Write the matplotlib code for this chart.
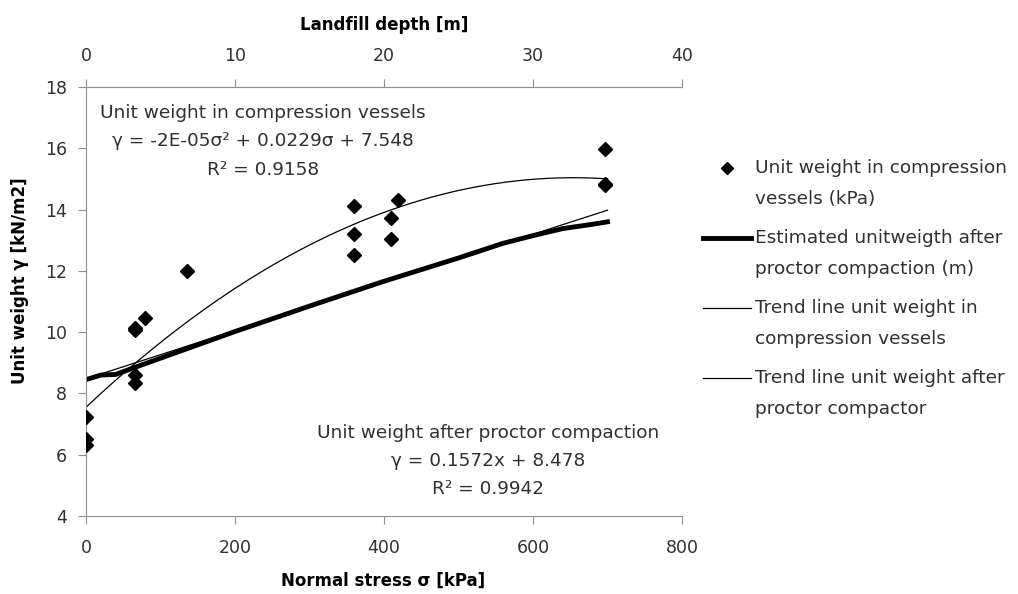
import matplotlib
matplotlib.use("Agg")
from matplotlib import pyplot as plt
from matplotlib.lines import Line2D
import numpy as np

plt.rcParams['font.family'] = ['DejaVu Sans']

# measured unit weights in compression vessels
stress = [0, 0, 0, 66, 66, 66, 66, 79, 135, 360, 360, 360, 409, 409, 419, 697, 697, 697]
gamma = [7.24, 6.5, 6.33, 10.13, 10.08, 8.6, 8.33, 10.45, 12.0,
         14.13, 13.2, 12.52, 13.74, 13.04, 14.3, 15.97, 14.85, 14.8]

# estimated unit weight after proctor compaction vs depth (m)
depth = [0, 1, 2, 3, 5, 10, 15, 20, 25, 28, 30, 32, 33, 34, 35]
gamma_proctor = [8.45, 8.6, 8.62, 8.8, 9.15, 10.02, 10.85, 11.66, 12.42, 12.9, 13.15, 13.38, 13.45, 13.52, 13.6]

# trend line coefficients
quad = [-1.75e-05, 0.0229, 7.548]
lin = [0.1572, 8.478]

eq_top = ['Unit weight in compression vessels', 'γ = -2E-05σ² + 0.0229σ + 7.548', 'R² = 0.9158']
eq_bot = ['Unit weight after proctor compaction', 'γ = 0.1572x + 8.478', 'R² = 0.9942']

legend_labels = [('Unit weight in compression', 'vessels (kPa)'),
                 ('Estimated unitweigth after', 'proctor compaction (m)'),
                 ('Trend line unit weight in', 'compression vessels'),
                 ('Trend line unit weight after', 'proctor compactor')]

W, H = 1018, 594
fig = plt.figure(figsize=(W / 100, H / 100), dpi=100)
ax = fig.add_axes([86 / W, 1 - 516 / H, 596 / W, 429 / H])

tc = '#303030'
fs = 12.5   # tick labels
fs2 = 13.3  # equations and legend
s = np.linspace(0, 700, 200)
d = np.array(depth)
ax.plot(stress, gamma, 'kD', ms=7, zorder=5)
ax.plot(d * 20, gamma_proctor, 'k-', lw=3.5)
ax.plot(s, np.polyval(quad, s), 'k-', lw=0.9)
ax.plot(s, np.polyval(lin, s / 20), 'k-', lw=0.9)

ax.set_xlim(0, 800)
ax.set_ylim(4, 18)
ax.set_xticks(range(0, 801, 200))
ax.set_yticks(range(4, 19, 2))
for side in ['left', 'bottom', 'top']:
    ax.spines[side].set_color('#909090')
ax.spines['right'].set_visible(False)
ax.tick_params(direction='out', colors='#909090', labelcolor=tc, labelsize=fs, length=5.5)
ax.tick_params(axis='x', pad=11)
ax.tick_params(axis='y', pad=8)

top = ax.secondary_xaxis('top', functions=(lambda x: x / 20, lambda x: x * 20))
top.set_xticks(range(0, 41, 10))
top.spines['top'].set_color('#909090')
top.tick_params(direction='out', colors='#909090', labelcolor=tc, labelsize=fs, length=5.5, pad=10)

for k, line in enumerate(eq_top):
    fig.text(263 / W, 1 - (113 + 28.5 * k) / H, line, ha='center', va='center', fontsize=fs2, color=tc)
for k, line in enumerate(eq_bot):
    fig.text(488 / W, 1 - (433 + 28 * k) / H, line, ha='center', va='center', fontsize=fs2, color=tc)

fig.text(20 / W, 1 - 281 / H, 'Unit weight γ [kN/m2]', rotation=90, ha='center', va='center',
         fontsize=12, fontweight='bold')
fig.text(383 / W, 1 - 581 / H, 'Normal stress σ [kPa]', ha='center', va='center', fontsize=12, fontweight='bold')
fig.text(384 / W, 1 - 25 / H, 'Landfill depth [m]', ha='center', va='center', fontsize=12, fontweight='bold')

# legend, handle on the first text line
handles = [dict(marker='D', ls='none', ms=6), dict(lw=3.5), dict(lw=0.9), dict(lw=0.9)]
for i, (lab, h) in enumerate(zip(legend_labels, handles)):
    y = 1 - (168 + 70 * i) / H
    if 'marker' in h:
        fig.add_artist(Line2D([727 / W], [y], color='k', transform=fig.transFigure, **h))
    else:
        fig.add_artist(Line2D([703 / W, 751 / W], [y, y], color='k', transform=fig.transFigure, **h))
    fig.text(755 / W, y, lab[0], ha='left', va='center', fontsize=fs2, color=tc)
    fig.text(755 / W, y - 31 / H, lab[1], ha='left', va='center', fontsize=fs2, color=tc)

fig.savefig('out.png', dpi=100)
